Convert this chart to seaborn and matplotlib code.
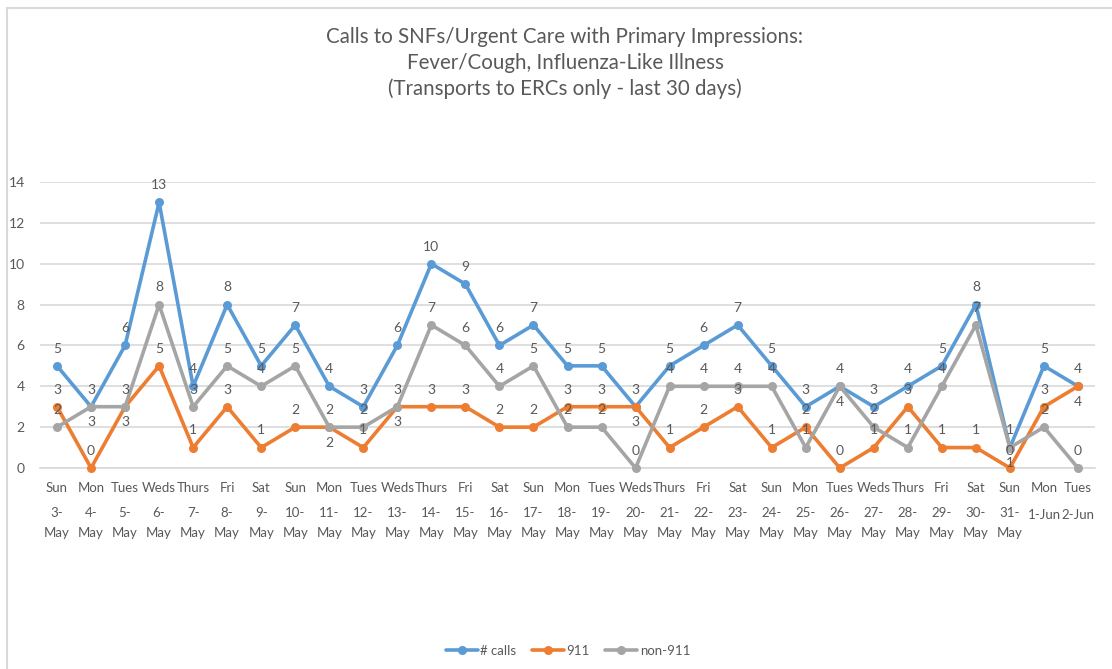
import numpy as np
import pandas as pd
import matplotlib
matplotlib.use('Agg')
import matplotlib.pyplot as plt
from matplotlib.lines import Line2D
import seaborn as sns

# data (3-May .. 2-Jun)
days = ['Sun', 'Mon', 'Tues', 'Weds', 'Thurs', 'Fri', 'Sat'] * 4 + ['Sun', 'Mon', 'Tues']
dates = ['3-May', '4-May', '5-May', '6-May', '7-May', '8-May', '9-May', '10-May', '11-May',
         '12-May', '13-May', '14-May', '15-May', '16-May', '17-May', '18-May', '19-May',
         '20-May', '21-May', '22-May', '23-May', '24-May', '25-May', '26-May', '27-May',
         '28-May', '29-May', '30-May', '31-May', '1-Jun', '2-Jun']
calls = [5, 3, 6, 13, 4, 8, 5, 7, 4, 3, 6, 10, 9, 6, 7, 5, 5, 3, 5, 6, 7, 5, 3, 4, 3, 4, 5, 8, 1, 5, 4]
calls_911 = [3, 0, 3, 5, 1, 3, 1, 2, 2, 1, 3, 3, 3, 2, 2, 3, 3, 3, 1, 2, 3, 1, 2, 0, 1, 3, 1, 1, 0, 3, 4]
non_911 = [2, 3, 3, 8, 3, 5, 4, 5, 2, 2, 3, 7, 6, 4, 5, 2, 2, 0, 4, 4, 4, 4, 1, 4, 2, 1, 4, 7, 1, 2, 0]

series_names = ['# calls', '911', 'non-911']
colors = ['#5B9BD5', '#ED7D31', '#A5A5A5']
txt = '#595959'
grid = '#D9D9D9'

sns.set_style('white')
plt.rcParams['font.family'] = ['Lato', 'DejaVu Sans']

n = len(dates)
df = pd.DataFrame({'idx': np.arange(n), '# calls': calls, '911': calls_911, 'non-911': non_911})
long = df.melt(id_vars='idx', var_name='series', value_name='value')

W, H = 1112, 669
fig = plt.figure(figsize=(W / 100, H / 100), dpi=100)
ax = fig.add_axes([40 / W, 1 - 468 / H, (1095 - 40) / W, (468 - 182) / H])

sns.lineplot(data=long, x='idx', y='value', hue='series', hue_order=series_names,
             palette=colors, marker='o', markersize=6.5, markeredgewidth=0,
             linewidth=2.6, ax=ax, clip_on=False, zorder=3)

handles, labels = ax.get_legend_handles_labels()
ax.get_legend().remove()

ax.set_xlim(-0.5, n - 0.5)
ax.set_ylim(0, 14)
ax.set_yticks(range(0, 15, 2))
ax.yaxis.grid(True, color=grid, linewidth=1.2)
ax.set_axisbelow(True)
for s in ['top', 'right', 'left']:
    ax.spines[s].set_visible(False)
ax.spines['bottom'].set_color(grid)
ax.spines['bottom'].set_linewidth(1.2)
ax.set_xlabel('')
ax.set_ylabel('')
ax.tick_params(axis='y', length=0, pad=11, labelsize=10, labelcolor=txt)

ax.set_xticks(np.arange(n))
ax.set_xticklabels(days)
ax.set_xticks(np.arange(-0.5, n, 1), minor=True)
ax.tick_params(axis='x', which='major', length=0, pad=10, labelsize=9.5, labelcolor=txt)
ax.tick_params(axis='x', which='minor', length=55, width=1.2, color=grid, direction='out')

# second level of the category axis
tr = ax.get_xaxis_transform()
for i, d in enumerate(dates):
    num, mon = d.split('-')
    if mon == 'May':
        ax.text(i, (468 - 513) / 286, num + '-', transform=tr, ha='center', va='center',
                fontsize=9.5, color=txt)
        ax.text(i, (468 - 533) / 286, mon, transform=tr, ha='center', va='center',
                fontsize=9.5, color=txt)
    else:
        ax.text(i, (468 - 515) / 286, d, transform=tr, ha='center', va='center',
                fontsize=9.5, color=txt)

# data labels: above the point, below if an earlier series already sits there
values = [calls, calls_911, non_911]
for k, vals in enumerate(values):
    for i, v in enumerate(vals):
        taken = any(values[j][i] == v for j in range(k))
        if taken:
            ax.annotate(str(v), (i, v), xytext=(0, -7), textcoords='offset points',
                        ha='center', va='top', fontsize=10, color=txt,
                        annotation_clip=False)
        else:
            ax.annotate(str(v), (i, v), xytext=(0, 8), textcoords='offset points',
                        ha='center', va='bottom', fontsize=10, color=txt,
                        annotation_clip=False)

fig.text(565 / W, 1 - 63 / H,
         'Calls to SNFs/Urgent Care with Primary Impressions:\n'
         'Fever/Cough, Influenza-Like Illness\n'
         '(Transports to ERCs only - last 30 days)',
         ha='center', va='center', fontsize=14.8, linespacing=1.32, color=txt)

fig.legend(handles, labels, loc='center', bbox_to_anchor=(568 / W, 1 - 651 / H), ncol=3,
           frameon=False, fontsize=9.5, labelcolor=txt, handlelength=2.4,
           handletextpad=0.2, columnspacing=1.2)

# chart border (cropped screenshot: only left and top edges visible)
fig.add_artist(Line2D([7 / W, 7 / W], [0, 1 - 8 / H], transform=fig.transFigure,
                      color=grid, linewidth=1.5))
fig.add_artist(Line2D([7 / W, 1], [1 - 8 / H, 1 - 8 / H], transform=fig.transFigure,
                      color=grid, linewidth=1.5))

fig.savefig('out.png', dpi=100)
